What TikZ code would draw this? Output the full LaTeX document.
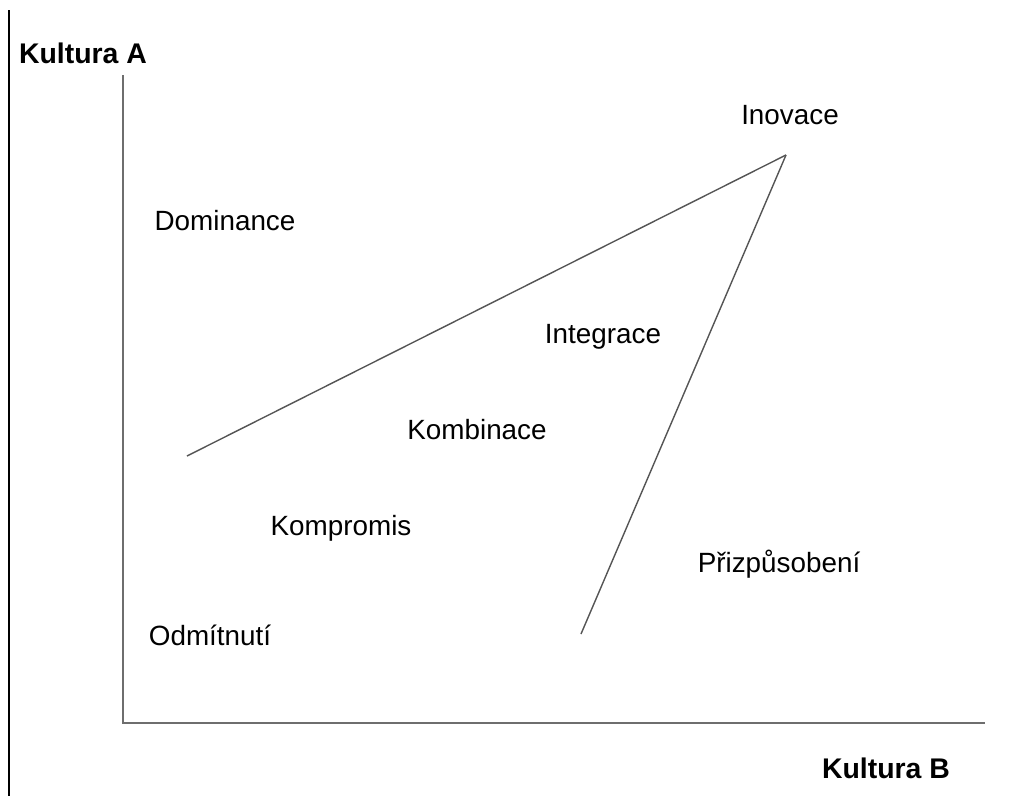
\documentclass[tikz,border=0pt]{standalone}
\usepackage{fontspec}
\setmainfont{Liberation Sans}
\usepackage{tikz}
\usetikzlibrary{positioning}
\definecolor{axisgray}{RGB}{110,110,110}
\definecolor{linegray}{RGB}{85,85,85}

\begin{document}
\begin{tikzpicture}[x=0.025cm,y=-0.025cm,
        every node/.style={inner sep=0pt,anchor=base,font=\fontsize{19.8}{23}\selectfont},
        axislabel/.style={font=\fontsize{20.2}{23}\selectfont\bfseries},
        axisline/.style={axisgray,line width=1.4pt},
        strategyline/.style={linegray,line width=1pt}
      ]
      \useasboundingbox (0,0) rectangle (1011,796);

      % the frame on the left
      \coordinate (ftop) at (9,10);
      \coordinate (fbot) at (9,796);
      \draw[black,line width=1.8pt] (ftop) -- (fbot);

      % the axes
      \coordinate (origin) at (123,723);
      \coordinate (ytop) at (123,75);
      \coordinate (xend) at (985,723);
      \draw[axisline] (ytop) -- (origin) -- (xend);
      \node[axislabel] (kulturaA) at (83,63) {Kultura A};
      \node[axislabel] (kulturaB) at (886,778) {Kultura B};

      % the two lines
      \coordinate (apex) at (786,155);
      \coordinate (lend) at (187,456);
      \coordinate (bend) at (581,634);
      \draw[strategyline] (lend) -- (apex);
      \draw[strategyline] (apex) -- (bend);

      % the strategies
      \node (inovace) at (790,124) {Inovace};
      \node (dominance) at (225,230) {Dominance};
      \node (integrace) at (603,343) {Integrace};
      \node (kombinace) at (477,439) {Kombinace};
      \node (kompromis) at (341,535) {Kompromis};
      \node (prizpusobeni) at (779,572) {Přizpůsobení};
      \node (odmitnuti) at (210,645) {Odmítnutí};
 \end{tikzpicture}
\end{document}
